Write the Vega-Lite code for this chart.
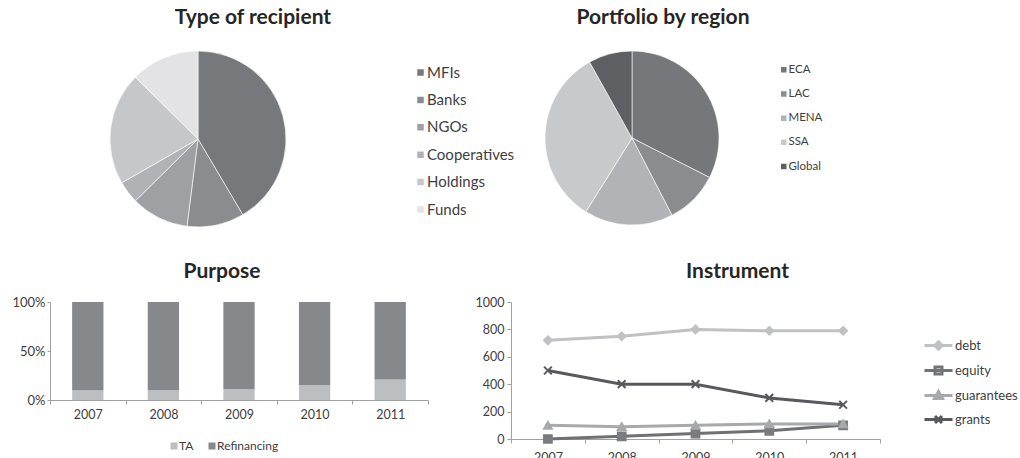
{
  "$schema": "https://vega.github.io/schema/vega-lite/v6.json",
  "padding": {"left": 11, "top": 6, "right": 0, "bottom": 0},
  "background": "white",
  "config": {
    "font": "Lato",
    "view": {"stroke": null},
    "title": {"font": "Lato", "fontSize": 21, "fontWeight": "bold", "color": "#262626", "anchor": "middle", "frame": "group", "baseline": "alphabetic"},
    "axis": {"labelFont": "Lato", "labelFontSize": 12, "labelColor": "#404040", "domainColor": "#a0a0a0", "tickColor": "#a0a0a0", "tickSize": 4, "grid": false, "title": null},
    "legend": {"labelFont": "Lato", "labelColor": "#404040", "title": null, "padding": 0}
  },
  "datasets": {
    "recipient": [
      {"type": "MFIs", "value": 41.5, "idx": 1},
      {"type": "Banks", "value": 10.5, "idx": 2},
      {"type": "NGOs", "value": 10.6, "idx": 3},
      {"type": "Cooperatives", "value": 4.1, "idx": 4},
      {"type": "Holdings", "value": 20.7, "idx": 5},
      {"type": "Funds", "value": 12.6, "idx": 6}
    ],
    "region": [
      {"region": "ECA", "value": 32.5, "idx": 1},
      {"region": "LAC", "value": 9.9, "idx": 2},
      {"region": "MENA", "value": 16.5, "idx": 3},
      {"region": "SSA", "value": 33.0, "idx": 4},
      {"region": "Global", "value": 8.1, "idx": 5}
    ],
    "purpose": [
      {"year": "2007", "purpose": "TA", "share": 10, "idx": 1},
      {"year": "2007", "purpose": "Refinancing", "share": 90, "idx": 2},
      {"year": "2008", "purpose": "TA", "share": 10, "idx": 1},
      {"year": "2008", "purpose": "Refinancing", "share": 90, "idx": 2},
      {"year": "2009", "purpose": "TA", "share": 11, "idx": 1},
      {"year": "2009", "purpose": "Refinancing", "share": 89, "idx": 2},
      {"year": "2010", "purpose": "TA", "share": 15, "idx": 1},
      {"year": "2010", "purpose": "Refinancing", "share": 85, "idx": 2},
      {"year": "2011", "purpose": "TA", "share": 21, "idx": 1},
      {"year": "2011", "purpose": "Refinancing", "share": 79, "idx": 2}
    ],
    "instrument": [
      {"year": "2007", "series": "debt", "amount": 720},
      {"year": "2008", "series": "debt", "amount": 750},
      {"year": "2009", "series": "debt", "amount": 800},
      {"year": "2010", "series": "debt", "amount": 790},
      {"year": "2011", "series": "debt", "amount": 790},
      {"year": "2007", "series": "equity", "amount": 0},
      {"year": "2008", "series": "equity", "amount": 20},
      {"year": "2009", "series": "equity", "amount": 40},
      {"year": "2010", "series": "equity", "amount": 60},
      {"year": "2011", "series": "equity", "amount": 100},
      {"year": "2007", "series": "guarantees", "amount": 100},
      {"year": "2008", "series": "guarantees", "amount": 90},
      {"year": "2009", "series": "guarantees", "amount": 100},
      {"year": "2010", "series": "guarantees", "amount": 110},
      {"year": "2011", "series": "guarantees", "amount": 110},
      {"year": "2007", "series": "grants", "amount": 500},
      {"year": "2008", "series": "grants", "amount": 400},
      {"year": "2009", "series": "grants", "amount": 400},
      {"year": "2010", "series": "grants", "amount": 300},
      {"year": "2011", "series": "grants", "amount": 250}
    ]
  },
  "vconcat": [
    {
      "hconcat": [
        {
          "width": 296, "height": 176,
          "title": {"text": "Type of recipient", "dx": 55, "offset": 22},
          "data": {"name": "recipient"},
          "mark": {"type": "arc", "stroke": "#ffffff", "strokeWidth": 0.6},
          "encoding": {
            "theta": {"field": "value", "type": "quantitative", "stack": true},
            "order": {"field": "idx", "type": "quantitative"},
            "color": {
              "field": "type", "type": "nominal",
              "scale": {"domain": ["MFIs", "Banks", "NGOs", "Cooperatives", "Holdings", "Funds"], "range": ["#77787b", "#8b8c8f", "#9fa0a3", "#b1b2b5", "#c6c7c9", "#e3e3e5"]},
              "legend": {"orient": "none", "legendX": 363, "legendY": 14, "symbolType": "square", "symbolSize": 64, "labelFontSize": 15, "rowPadding": 11.4, "labelOffset": -1}
            }
          }
        },
        {
          "width": 174, "height": 174,
          "title": {"text": "Portfolio by region", "dx": 31, "offset": 22},
          "data": {"name": "region"},
          "mark": {"type": "arc", "stroke": "#ffffff", "strokeWidth": 0.6},
          "encoding": {
            "theta": {"field": "value", "type": "quantitative", "stack": true},
            "order": {"field": "idx", "type": "quantitative"},
            "color": {
              "field": "region", "type": "nominal",
              "scale": {"domain": ["ECA", "LAC", "MENA", "SSA", "Global"], "range": ["#76777b", "#8b8c90", "#b2b3b6", "#c8c9cb", "#5e5f62"]},
              "legend": {"orient": "none", "legendX": 233, "legendY": 13, "symbolType": "square", "symbolSize": 49, "labelFontSize": 11.5, "rowPadding": 10.2, "labelOffset": -1}
            }
          }
        }
      ],
      "spacing": 199,
      "bounds": "flush",
      "resolve": {"scale": {"color": "independent"}, "legend": {"color": "independent"}}
    },
    {
      "hconcat": [
        {
          "width": 378, "height": 98,
          "title": {"text": "Purpose", "dx": -17, "offset": 14},
          "data": {"name": "purpose"},
          "mark": {"type": "bar", "width": {"band": 0.414}},
          "encoding": {
            "x": {"field": "year", "type": "ordinal", "scale": {"paddingInner": 0, "paddingOuter": 0}, "axis": {"labelAngle": 0, "tickBand": "extent", "labelPadding": 4, "labelFontSize": 12.5}},
            "y": {"field": "share", "type": "quantitative", "stack": "normalize", "scale": {"domain": [0, 1]}, "axis": {"values": [0, 0.5, 1], "format": ".0%", "labelFontSize": 13, "labelPadding": 2, "tickSize": 3}},
            "color": {
              "field": "purpose", "type": "nominal",
              "scale": {"domain": ["TA", "Refinancing"], "range": ["#bdbec0", "#87888c"]},
              "legend": {"orient": "none", "direction": "horizontal", "legendX": 118, "legendY": 138, "symbolType": "square", "symbolSize": 49, "labelFontSize": 12, "labelOffset": -1, "columnPadding": 12}
            },
            "order": {"field": "idx", "type": "quantitative"}
          }
        },
        {
          "width": 369, "height": 137,
          "title": {"text": "Instrument", "dx": 42, "offset": 14},
          "data": {"name": "instrument"},
          "encoding": {
            "x": {"field": "year", "type": "ordinal", "bandPosition": 0.5, "scale": {"type": "band", "paddingInner": 0, "paddingOuter": 0}, "axis": {"labelAngle": 0, "tickBand": "extent", "labelPadding": 8, "labelFontSize": 12.5}},
            "y": {"field": "amount", "type": "quantitative", "scale": {"domain": [0, 1000]}, "axis": {"values": [0, 200, 400, 600, 800, 1000], "format": "d", "labelFontSize": 12.5, "labelPadding": 3}}
          },
          "layer": [
            {
              "mark": {"type": "line", "strokeWidth": 3},
              "encoding": {
                "stroke": {"field": "series", "type": "nominal", "scale": {"domain": ["debt", "equity", "guarantees", "grants"], "range": ["#c0c1c3", "#6f7073", "#a8a9ab", "#58595c"]}, "legend": null}
              }
            },
            {
              "mark": {"type": "point", "filled": true, "opacity": 1, "size": 60, "strokeWidth": 2},
              "encoding": {
                "fill": {"field": "series", "type": "nominal", "scale": {"domain": ["debt", "equity", "guarantees", "grants"], "range": ["#c0c1c3", "#7a7b7f", "#a8a9ab", "#58595c"]}, "legend": null},
                "stroke": {"field": "series", "type": "nominal", "scale": {"domain": ["debt", "equity", "guarantees", "grants"], "range": ["#c0c1c3", "#7a7b7f", "#a8a9ab", "#58595c"]}, "legend": null},
                "shape": {"field": "series", "type": "nominal", "scale": {"domain": ["debt", "equity", "guarantees", "grants"], "range": ["diamond", "square", "triangle-up", "M-1,-1L1,1M-1,1L1,-1"]}, "legend": null}
              }
            },
            {
              "mark": {"type": "point", "filled": true, "opacity": 0, "size": 100},
              "encoding": {
                "fill": {"field": "series", "type": "nominal", "scale": {"domain": ["debt", "equity", "guarantees", "grants"], "range": ["#c0c1c3", "#727377", "#a8a9ab", "#58595c"]},
                  "legend": {"orient": "none", "legendX": 421, "legendY": 37, "symbolSize": 100, "symbolStrokeWidth": 3, "labelFontSize": 13, "rowPadding": 5, "labelOffset": 10}},
                "stroke": {"field": "series", "type": "nominal", "scale": {"domain": ["debt", "equity", "guarantees", "grants"], "range": ["#c0c1c3", "#727377", "#a8a9ab", "#58595c"]},
                  "legend": {"orient": "none", "legendX": 421, "legendY": 37, "symbolSize": 100, "symbolStrokeWidth": 3, "labelFontSize": 13, "rowPadding": 5, "labelOffset": 10}},
                "shape": {"field": "series", "type": "nominal", "scale": {"domain": ["debt", "equity", "guarantees", "grants"], "range": ["M-2.8,0H2.8M0,-0.75L0.75,0L0,0.75L-0.75,0Z", "M-2.8,0H2.8M-0.7,-0.7H0.7V0.7H-0.7Z", "M-2.8,0H2.8M0,-0.8L0.8,0.6H-0.8Z", "M-2.8,0H2.8M-0.7,-0.7L0.7,0.7M-0.7,0.7L0.7,-0.7"]},
                  "legend": {"orient": "none", "legendX": 421, "legendY": 37, "symbolSize": 100, "symbolStrokeWidth": 3, "labelFontSize": 13, "rowPadding": 5, "labelOffset": 10}}
              }
            }
          ],
          "resolve": {"scale": {"fill": "independent", "stroke": "independent", "shape": "independent"}}
        }
      ],
      "spacing": 83,
      "bounds": "flush",
      "resolve": {"scale": {"color": "independent", "fill": "independent", "stroke": "independent", "shape": "independent"}, "legend": {"color": "independent"}}
    }
  ],
  "spacing": 251,
  "bounds": "flush",
  "resolve": {"scale": {"color": "independent", "fill": "independent", "stroke": "independent", "shape": "independent"}, "legend": {"color": "independent"}}
}
